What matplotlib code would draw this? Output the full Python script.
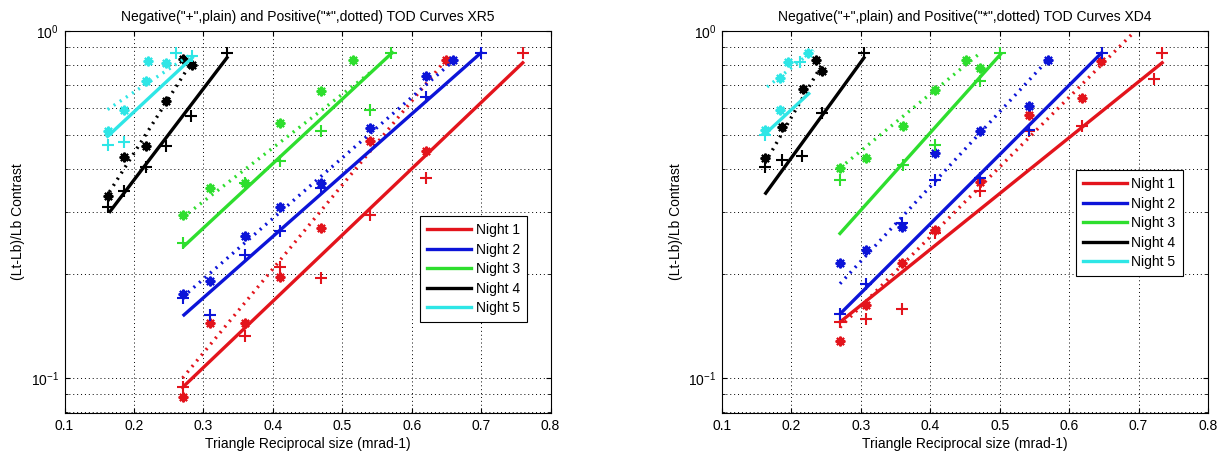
import numpy as np
from matplotlib import pyplot as plt
from matplotlib import ticker

plt.rcParams['font.family'] = ['Liberation Sans', 'DejaVu Sans']

nights = ['Night 1', 'Night 2', 'Night 3', 'Night 4', 'Night 5']
colours = ['#e3141c', '#0c14d8', '#2ede2e', '#000000', '#2ee6e6']

# ---------------- XR5 (left) ----------------
# negative contrast, "+" markers
xr5_neg_x = [[0.27, 0.36, 0.41, 0.47, 0.54, 0.62, 0.76],
             [0.27, 0.31, 0.36, 0.41, 0.47, 0.62, 0.70],
             [0.27, 0.36, 0.41, 0.47, 0.54, 0.57],
             [0.162, 0.185, 0.217, 0.246, 0.282, 0.334],
             [0.162, 0.185, 0.26, 0.284]]
xr5_neg_y = [[0.094, 0.132, 0.209, 0.194, 0.295, 0.378, 0.866],
             [0.17, 0.152, 0.226, 0.265, 0.353, 0.646, 0.866],
             [0.245, 0.366, 0.421, 0.514, 0.594, 0.866],
             [0.312, 0.347, 0.407, 0.465, 0.568, 0.866],
             [0.470, 0.478, 0.866, 0.847]]
# positive contrast, "*" markers
xr5_pos_x = [[0.27, 0.31, 0.36, 0.41, 0.47, 0.54, 0.62, 0.65],
             [0.27, 0.31, 0.36, 0.41, 0.47, 0.54, 0.62, 0.66],
             [0.27, 0.31, 0.36, 0.41, 0.47, 0.515],
             [0.162, 0.185, 0.217, 0.246, 0.271, 0.283],
             [0.162, 0.185, 0.217, 0.22, 0.246]]
xr5_pos_y = [[0.088, 0.144, 0.144, 0.196, 0.270, 0.481, 0.45, 0.823],
             [0.175, 0.19, 0.257, 0.312, 0.366, 0.526, 0.741, 0.823],
             [0.295, 0.353, 0.366, 0.544, 0.671, 0.823],
             [0.335, 0.433, 0.465, 0.628, 0.828, 0.80],
             [0.514, 0.594, 0.717, 0.819, 0.81]]
# fitted curves (end points)
xr5_fitneg_x = [[0.27, 0.76], [0.272, 0.70], [0.272, 0.572], [0.1655, 0.334], [0.162, 0.284]]
xr5_fitneg_y = [[0.094, 0.81], [0.152, 0.866], [0.24, 0.866], [0.302, 0.838], [0.497, 0.838]]
xr5_fitpos_x = [[0.27, 0.65], [0.27, 0.66], [0.27, 0.543], [0.159, 0.284], [0.162, 0.282]]
xr5_fitpos_y = [[0.10, 0.83], [0.171, 0.82], [0.29, 0.766], [0.33, 0.819], [0.594, 0.856]]

# ---------------- XD4 (right) ----------------
xd4_neg_x = [[0.27, 0.307, 0.36, 0.407, 0.4715, 0.542, 0.619, 0.722, 0.734],
             [0.27, 0.307, 0.36, 0.407, 0.4715, 0.542, 0.647],
             [0.27, 0.3605, 0.407, 0.4715, 0.501],
             [0.162, 0.186, 0.215, 0.244, 0.3045],
             [0.162, 0.212]]
xd4_neg_y = [[0.145, 0.148, 0.158, 0.262, 0.345, 0.514, 0.531, 0.725, 0.866],
             [0.153, 0.187, 0.28, 0.373, 0.377, 0.52, 0.866],
             [0.373, 0.412, 0.470, 0.717, 0.866],
             [0.407, 0.426, 0.437, 0.581, 0.866],
             [0.50, 0.816]]
xd4_pos_x = [[0.27, 0.307, 0.36, 0.407, 0.4715, 0.542, 0.619, 0.646],
             [0.27, 0.307, 0.36, 0.407, 0.4715, 0.542, 0.57],
             [0.27, 0.307, 0.3605, 0.407, 0.452, 0.4715],
             [0.162, 0.186, 0.216, 0.235, 0.244],
             [0.162, 0.1835, 0.1835, 0.1954, 0.224]]
xd4_pos_y = [[0.128, 0.162, 0.214, 0.267, 0.368, 0.574, 0.642, 0.819],
             [0.214, 0.234, 0.273, 0.445, 0.514, 0.61, 0.823],
             [0.403, 0.43, 0.531, 0.675, 0.823, 0.783],
             [0.43, 0.529, 0.681, 0.823, 0.766],
             [0.518, 0.594, 0.73, 0.816, 0.862]]
xd4_fitneg_x = [[0.27, 0.734], [0.27, 0.647], [0.27, 0.501], [0.163, 0.3045], [0.162, 0.225]]
xd4_fitneg_y = [[0.145, 0.81], [0.153, 0.866], [0.261, 0.856], [0.341, 0.837], [0.505, 0.66]]
xd4_fitpos_x = [[0.27, 0.695], [0.27, 0.57], [0.27, 0.4725], [0.162, 0.244], [0.165, 0.232]]
xd4_fitpos_y = [[0.14, 1.0], [0.187, 0.828], [0.403, 0.866], [0.417, 0.801], [0.69, 0.88]]


def panel(ax, neg_x, neg_y, pos_x, pos_y, fn_x, fn_y, fp_x, fp_y, title, leg_xy):
    handles = []
    for i in range(5):
        c = colours[i]
        h, = ax.plot(fn_x[i], fn_y[i], '-', color=c, lw=2.4, label=nights[i])
        handles.append(h)
        ax.plot(fp_x[i], fp_y[i], color=c, lw=2.4, linestyle=(0, (0.6, 1.6)))
        ax.plot(neg_x[i], neg_y[i], '+', color=c, ms=8, mew=1.5)
        ax.plot(pos_x[i], pos_y[i], linestyle='none', marker=(8, 2, 0), color=c, ms=7, mew=1.5)
    ax.set_yscale('log')
    ax.set_xlim(0.1, 0.8)
    ax.set_ylim(0.0793, 1.0)
    ax.xaxis.set_major_locator(ticker.MultipleLocator(0.1))
    ax.yaxis.set_minor_formatter(ticker.NullFormatter())
    ax.grid(True, which='both', linestyle=(0, (1, 3)), color='k', lw=0.7)
    ax.tick_params(which='both', direction='in', top=True, right=True, labelsize=10, pad=4)
    ax.set_title(title, fontsize=10, pad=7)
    ax.set_xlabel('Triangle Reciprocal size (mrad-1)', fontsize=10, labelpad=3)
    ax.set_ylabel('(Lt-Lb)/Lb Contrast', fontsize=10)
    for s in ax.spines.values():
        s.set_linewidth(0.8)
    leg = ax.legend(handles=handles, loc='upper left', bbox_to_anchor=leg_xy, borderaxespad=0,
                    fontsize=10, handlelength=3.2, handletextpad=0.3, labelspacing=0.4,
                    borderpad=0.5, fancybox=False, edgecolor='k', framealpha=1)
    leg.get_frame().set_linewidth(0.8)


fig = plt.figure(figsize=(12.27, 4.59), dpi=100)
ax1 = fig.add_axes([0.0526, 0.1002, 0.3961, 0.8322])
ax2 = fig.add_axes([0.5884, 0.1002, 0.3961, 0.8322])

panel(ax1, xr5_neg_x, xr5_neg_y, xr5_pos_x, xr5_pos_y, xr5_fitneg_x, xr5_fitneg_y,
      xr5_fitpos_x, xr5_fitpos_y,
      'Negative("+",plain) and Positive("*",dotted) TOD Curves XR5', (0.7315, 0.5157))
panel(ax2, xd4_neg_x, xd4_neg_y, xd4_pos_x, xd4_pos_y, xd4_fitneg_x, xd4_fitneg_y,
      xd4_fitpos_x, xd4_fitpos_y,
      'Negative("+",plain) and Positive("*",dotted) TOD Curves XD4', (0.728, 0.636))

fig.savefig('out.png', dpi=100)
